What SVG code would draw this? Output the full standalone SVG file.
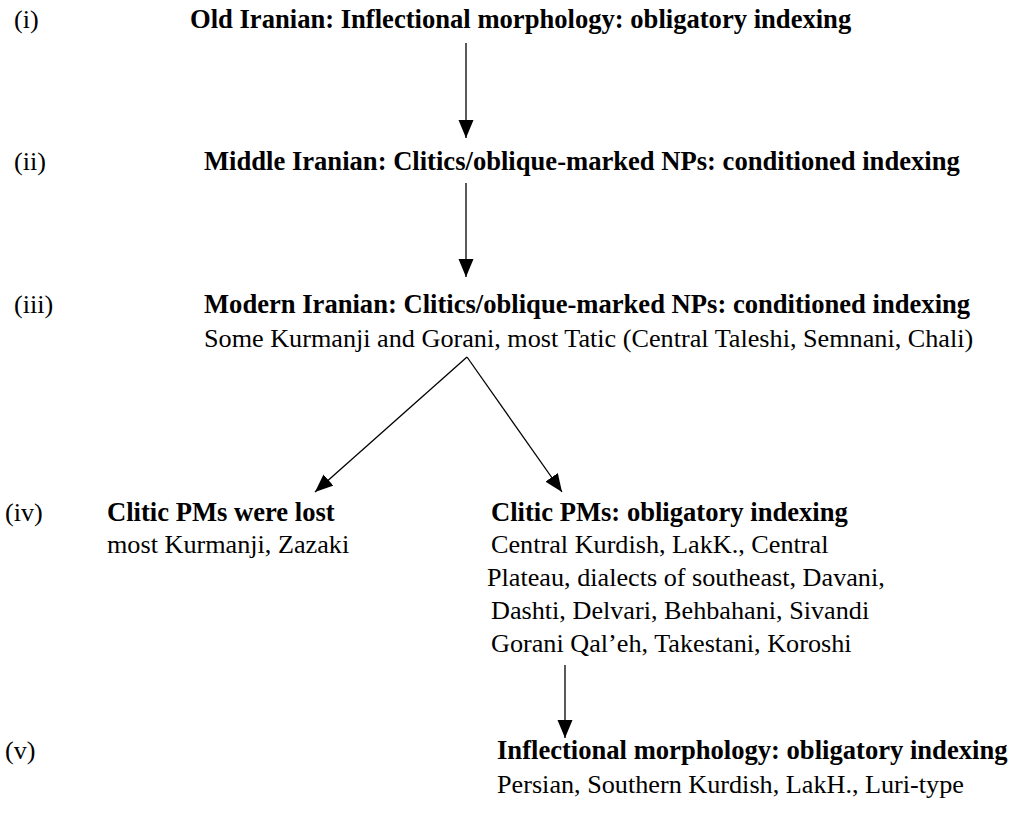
<svg xmlns="http://www.w3.org/2000/svg" width="1010" height="828" viewBox="0 0 1010 828">
<style>
text{font-family:"Liberation Serif","Times New Roman",serif;font-size:26.2px;fill:#000}
.b{font-weight:bold;font-size:26.6px}
.c{stroke:#000;stroke-width:1.3;fill:none}
</style>
<defs>
<marker id="ah" markerUnits="userSpaceOnUse" markerWidth="18" markerHeight="16" refX="18" refY="7.5" orient="auto" viewBox="0 0 18 15">
<path d="M0,0 L18,7.5 L0,15 z" fill="#000"/>
</marker>
</defs>
<rect width="1010" height="828" fill="#fff"/>
<g id="stage-i">
<text x="14" y="28">(i)</text>
<text class="b" x="190" y="28">Old Iranian: Inflectional morphology: obligatory indexing</text>
</g>
<g id="stage-ii">
<text x="14" y="170">(ii)</text>
<text class="b" x="204" y="170">Middle Iranian: Clitics/oblique-marked NPs: conditioned indexing</text>
</g>
<g id="stage-iii">
<text x="14" y="313">(iii)</text>
<text class="b" x="204" y="313">Modern Iranian: Clitics/oblique-marked NPs: conditioned indexing</text>
<text x="204" y="347">Some Kurmanji and Gorani, most Tatic (Central Taleshi, Semnani, Chali)</text>
</g>
<g id="stage-iv-label">
<text x="5" y="521">(iv)</text>
</g>
<g id="stage-iv-lost">
<text class="b" x="107" y="521">Clitic PMs were lost</text>
<text x="107" y="553">most Kurmanji, Zazaki</text>
</g>
<g id="stage-iv-obligatory">
<text class="b" x="491" y="521">Clitic PMs: obligatory indexing</text>
<text x="491" y="553">Central Kurdish, LakK., Central</text>
<text x="487" y="586">Plateau, dialects of southeast, Davani,</text>
<text x="491" y="619">Dashti, Delvari, Behbahani, Sivandi</text>
<text x="491" y="652">Gorani Qal’eh, Takestani, Koroshi</text>
</g>
<g id="stage-v">
<text x="5" y="759">(v)</text>
<text class="b" x="497" y="759">Inflectional morphology: obligatory indexing</text>
<text x="497" y="793">Persian, Southern Kurdish, LakH., Luri-type</text>
</g>
<g id="connectors">
<line class="c" x1="466" y1="43" x2="466" y2="138" marker-end="url(#ah)"/>
<line class="c" x1="466" y1="183" x2="466" y2="277" marker-end="url(#ah)"/>
<line class="c" x1="467" y1="357" x2="315" y2="492" marker-end="url(#ah)"/>
<line class="c" x1="467" y1="357" x2="562" y2="492" marker-end="url(#ah)"/>
<line class="c" x1="565" y1="665" x2="565" y2="738" marker-end="url(#ah)"/>
</g>
</svg>
